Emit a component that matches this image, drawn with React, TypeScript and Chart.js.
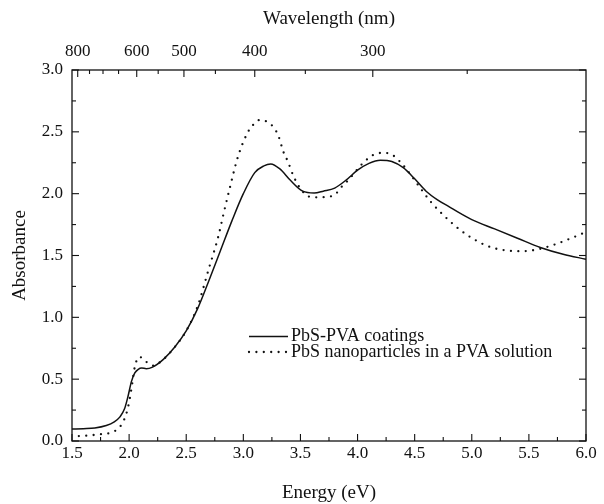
import React, { useEffect, useRef } from 'react';
import { Chart, registerables } from 'chart.js';

Chart.register(...registerables);

// photon energy (eV) = HC / wavelength (nm)
const HC = 1240;

// axis ticks
const energyTicks = [1.5, 2.0, 2.5, 3.0, 3.5, 4.0, 4.5, 5.0, 5.5, 6.0];
const energyMinorTicks = [1.75, 2.25, 2.75, 3.25, 3.75, 4.25, 4.75, 5.25, 5.75];
const absTicks = [0.0, 0.5, 1.0, 1.5, 2.0, 2.5, 3.0];
const absMinorTicks = [0.25, 0.75, 1.25, 1.75, 2.25, 2.75];
const wavelengthTicks = [800, 600, 500, 400, 300];
const wavelengthMinorTicks = [750, 700, 650, 550, 450, 350, 250];

// series: PbS-PVA coatings (solid)
const coatingEnergy = [1.5, 1.6, 1.7, 1.8, 1.87, 1.92, 1.96, 1.99, 2.02, 2.05, 2.08, 2.11, 2.15, 2.2, 2.3, 2.4, 2.5, 2.6, 2.7, 2.8, 2.9, 3.0, 3.1, 3.18, 3.24, 3.32, 3.41, 3.52, 3.62, 3.7, 3.8, 3.9, 4.0, 4.1, 4.2, 4.3, 4.4, 4.5, 4.6, 4.7, 4.8, 4.9, 5.0, 5.2, 5.4, 5.6, 5.8, 6.0];
const coatingAbs = [0.097, 0.1, 0.105, 0.125, 0.155, 0.195, 0.26, 0.36, 0.48, 0.55, 0.58, 0.59, 0.585, 0.595, 0.66, 0.76, 0.89, 1.07, 1.3, 1.54, 1.78, 2.0, 2.17, 2.225, 2.24, 2.2, 2.11, 2.02, 2.005, 2.02, 2.045, 2.11, 2.19, 2.245, 2.27, 2.26, 2.21, 2.12, 2.02, 1.95, 1.895, 1.84, 1.79, 1.715, 1.64, 1.565, 1.51, 1.47];

// series: PbS nanoparticles in a PVA solution (dotted)
const solutionEnergy = [1.56, 1.65, 1.75, 1.85, 1.92, 1.96, 1.99, 2.02, 2.05, 2.09, 2.15, 2.21, 2.3, 2.4, 2.5, 2.6, 2.7, 2.78, 2.83, 2.88, 2.95, 3.03, 3.08, 3.14, 3.21, 3.27, 3.31, 3.35, 3.39, 3.44, 3.5, 3.58, 3.66, 3.73, 3.8, 3.86, 3.92, 4.04, 4.1, 4.17, 4.24, 4.31, 4.37, 4.43, 4.53, 4.64, 4.77, 4.9, 5.04, 5.17, 5.31, 5.45, 5.58, 5.72, 5.87, 6.0];
const solutionAbs = [0.04, 0.045, 0.055, 0.07, 0.115, 0.18, 0.27, 0.42, 0.6, 0.68, 0.64, 0.61, 0.66, 0.76, 0.89, 1.09, 1.4, 1.65, 1.85, 2.04, 2.29, 2.48, 2.55, 2.595, 2.58, 2.53, 2.46, 2.34, 2.26, 2.14, 2.04, 1.975, 1.97, 1.975, 1.99, 2.055, 2.11, 2.24, 2.29, 2.325, 2.33, 2.31, 2.26, 2.195, 2.07, 1.935, 1.81, 1.705, 1.62, 1.566, 1.54, 1.535, 1.55, 1.587, 1.64, 1.69];

const seriesLabels = ['PbS-PVA coatings', 'PbS nanoparticles in a PVA solution'];

const INK = '#111';
const FONT = "'Liberation Serif', 'Times New Roman', 'DejaVu Serif', serif";

const frameTicksPlugin = {
  id: 'frameTicks',
  afterDraw(chart: any) {
    const { ctx, chartArea: a, scales } = chart;
    ctx.save();
    ctx.strokeStyle = INK;
    ctx.lineWidth = 1.3;
    ctx.setLineDash([]);
    ctx.strokeRect(a.left, a.top, a.right - a.left, a.bottom - a.top);
    ctx.lineWidth = 1.1;
    const MAJ = 7;
    const MIN = 4;
    const hTick = (px: number, y: number, len: number) => {
      ctx.beginPath();
      ctx.moveTo(px, y);
      ctx.lineTo(px, y + len);
      ctx.stroke();
    };
    const vTick = (py: number, x: number, len: number) => {
      ctx.beginPath();
      ctx.moveTo(x, py);
      ctx.lineTo(x + len, py);
      ctx.stroke();
    };
    energyTicks.forEach((v) => hTick(scales.x.getPixelForValue(v), a.bottom, -MAJ));
    energyMinorTicks.forEach((v) => hTick(scales.x.getPixelForValue(v), a.bottom, -MIN));
    wavelengthTicks.forEach((w) => hTick(scales.x2.getPixelForValue(HC / w), a.top, MAJ));
    wavelengthMinorTicks.forEach((w) => hTick(scales.x2.getPixelForValue(HC / w), a.top, MIN));
    absTicks.forEach((v) => {
      const py = scales.y.getPixelForValue(v);
      vTick(py, a.left, MAJ);
      vTick(py, a.right, -MAJ);
    });
    absMinorTicks.forEach((v) => {
      const py = scales.y.getPixelForValue(v);
      vTick(py, a.left, MIN);
      vTick(py, a.right, -MIN);
    });
    ctx.restore();
  },
};

const legendPlugin = {
  id: 'inLegend',
  afterDatasetsDraw(chart: any) {
    const { ctx } = chart;
    const x0 = 249;
    const x1 = 288;
    const rows = [336.5, 352];
    ctx.save();
    chart.data.datasets.forEach((ds: any, i: number) => {
      const y = rows[i];
      ctx.strokeStyle = ds.borderColor;
      ctx.lineWidth = ds.borderWidth;
      ctx.lineCap = ds.borderCapStyle || 'butt';
      ctx.setLineDash(ds.borderDash || []);
      ctx.beginPath();
      ctx.moveTo(x0, y);
      ctx.lineTo(x1, y);
      ctx.stroke();
      ctx.setLineDash([]);
      ctx.fillStyle = INK;
      ctx.font = `18px ${FONT}`;
      ctx.textBaseline = 'middle';
      ctx.textAlign = 'left';
      ctx.fillText(ds.label, x1 + 3, y);
    });
    ctx.restore();
  },
};

export default function App() {
  const canvasRef = useRef<HTMLCanvasElement | null>(null);

  useEffect(() => {
    if (!canvasRef.current) return;
    const tickFont = { family: FONT, size: 17 };
    const titleFont = { family: FONT, size: 19 };
    const chart = new Chart(canvasRef.current, {
      type: 'line',
      data: {
        datasets: [
          {
            label: seriesLabels[0],
            data: coatingEnergy.map((e, i) => ({ x: e, y: coatingAbs[i] })),
            borderColor: INK,
            borderWidth: 1.5,
            pointRadius: 0,
            fill: false,
            cubicInterpolationMode: 'monotone',
            xAxisID: 'x',
            yAxisID: 'y',
          },
          {
            label: seriesLabels[1],
            data: solutionEnergy.map((e, i) => ({ x: e, y: solutionAbs[i] })),
            borderColor: INK,
            borderWidth: 2.3,
            borderDash: [0, 7.4],
            borderCapStyle: 'round',
            pointRadius: 0,
            fill: false,
            cubicInterpolationMode: 'monotone',
            xAxisID: 'x',
            yAxisID: 'y',
          },
        ],
      },
      options: {
        responsive: false,
        animation: false,
        devicePixelRatio: 1,
        layout: { padding: 0 },
        plugins: {
          legend: { display: false },
          tooltip: { enabled: false },
        },
        scales: {
          x: {
            type: 'linear',
            position: 'bottom',
            min: 1.5,
            max: 6.0,
            grid: { display: false, drawTicks: false },
            border: { display: false },
            afterBuildTicks: (s: any) => {
              s.ticks = energyTicks.map((v) => ({ value: v }));
            },
            afterFit: (s: any) => {
              s.height = 63;
            },
            ticks: {
              autoSkip: false,
              maxRotation: 0,
              padding: 2,
              color: INK,
              font: tickFont,
              callback: (v: any) => Number(v).toFixed(1),
            },
            title: {
              display: true,
              text: 'Energy (eV)',
              color: INK,
              font: titleFont,
              padding: { top: 0, bottom: 0 },
            },
          },
          x2: {
            type: 'linear',
            position: 'top',
            min: 1.5,
            max: 6.0,
            grid: { display: false, drawTicks: false },
            border: { display: false },
            afterBuildTicks: (s: any) => {
              s.ticks = wavelengthTicks.map((w) => ({ value: HC / w }));
            },
            afterFit: (s: any) => {
              s.height = 70;
            },
            ticks: {
              autoSkip: false,
              maxRotation: 0,
              padding: 8,
              color: INK,
              font: tickFont,
              callback: (v: any) => String(Math.round(HC / Number(v))),
            },
            title: {
              display: true,
              text: 'Wavelength (nm)',
              color: INK,
              font: titleFont,
              padding: { top: 8, bottom: 0 },
            },
          },
          y: {
            type: 'linear',
            position: 'left',
            min: 0,
            max: 3.0,
            grid: { display: false, drawTicks: false },
            border: { display: false },
            afterBuildTicks: (s: any) => {
              s.ticks = absTicks.map((v) => ({ value: v }));
            },
            afterFit: (s: any) => {
              s.width = 72;
            },
            ticks: {
              autoSkip: false,
              padding: 9,
              color: INK,
              font: tickFont,
              callback: (v: any) => Number(v).toFixed(1),
            },
            title: {
              display: true,
              text: 'Absorbance',
              color: INK,
              font: titleFont,
              padding: { top: 9, bottom: 0 },
            },
          },
          y2: {
            type: 'linear',
            position: 'right',
            min: 0,
            max: 3.0,
            grid: { display: false, drawTicks: false },
            border: { display: false },
            afterFit: (s: any) => {
              s.width = 18;
            },
            ticks: { display: false },
          },
        },
      },
      plugins: [frameTicksPlugin, legendPlugin],
    } as any);
    return () => chart.destroy();
  }, []);

  return (
    <div style={{ position: 'absolute', left: 0, top: 0, width: 604, height: 504, background: '#fff' }}>
      <canvas ref={canvasRef} width={604} height={504} />
    </div>
  );
}
